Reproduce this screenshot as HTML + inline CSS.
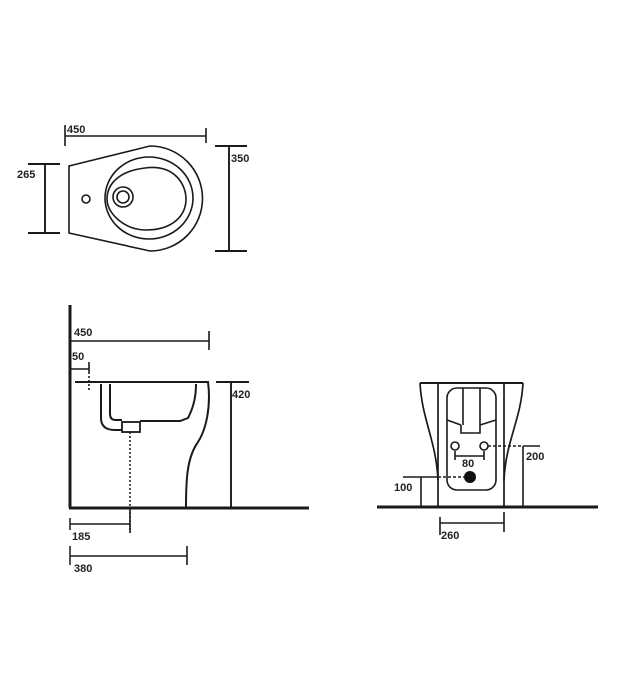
<!DOCTYPE html>
<html><head><style>html,body{margin:0;padding:0;background:#fff}svg{display:block}text{font-family:"Liberation Sans",sans-serif;font-size:11px;font-weight:bold;fill:#222}</style></head>
<body>
<svg width="619" height="700" viewBox="0 0 619 700" xmlns="http://www.w3.org/2000/svg">
<g fill="none" stroke="#1a1a1a" stroke-width="1.6">
<path d="M65 125V146M65 136H206M206 128V143"/>
<path d="M69 166L150 146A52.5 52.5 0 0 1 150 251L69 233Z"/>
<ellipse cx="149" cy="198" rx="44" ry="41"/>
<path d="M145 168C175 164 186 185 186 199C186 216 172 230 146 230C125 230 107 214 107 199C107 185 118 171 145 168Z"/>
<circle cx="123" cy="197" r="10"/><circle cx="123" cy="197" r="6"/>
<circle cx="86" cy="199" r="4"/>
<path d="M229 146V251M215 146H247M215 251H247" stroke-width="1.9"/>
<path d="M45 164V233M28 164H60M28 233H60" stroke-width="1.9"/>
<path d="M70 305V508M69 508H309" stroke-width="3"/>
<path d="M70 518V530M70 546V565" stroke-width="1.5"/>
<path d="M70 341H209M209 331V350"/>
<path d="M70 369H89M89 362V374"/>
<path d="M89 376V392" stroke-dasharray="2 2"/>
<path d="M75 382H208C211 405 207 430 196 445C187 460 186 480 186 508" stroke-width="2"/>
<path d="M196 384C196 400 192 410 188 418L180 421H140" stroke-width="2"/>
<path d="M110 384V414Q110 420 116 420H122" stroke-width="2"/>
<path d="M101 384V418Q101 430 115 430H122" stroke-width="2"/>
<rect x="122" y="422" width="18" height="10" stroke-width="1.8"/>
<path d="M130 432V532" stroke-dasharray="2 2" stroke-width="1.5"/>
<path d="M231 382V508M216 382H249" stroke-width="1.9"/>
<path d="M70 524H130M130 510V533"/>
<path d="M70 556H187M187 546V565"/>
<path d="M377 507H598" stroke-width="3"/>
<path d="M420 383H523" stroke-width="1.9"/>
<path d="M420 383C422 420 436 440 438 480M523 383C521 420 506 440 504 480" stroke-width="1.7"/>
<path d="M438 383V507M504 383V507" stroke-width="1.7"/>
<rect x="447" y="388" width="49" height="102" rx="10"/>
<path d="M463 388V425M480 388V425M461 425V433H480V425M447 420L461 425M496 420L480 425"/>
<circle cx="455" cy="446" r="4"/><circle cx="484" cy="446" r="4"/>
<path d="M455 456H484M455 451V460M484 451V460"/>
<path d="M488 446H523" stroke-dasharray="3 2"/>
<path d="M523 446H540M523 446V507"/>
<path d="M403 477H438M421 477V507"/>
<path d="M438 477H464" stroke-dasharray="3 2"/>
<path d="M440 523H504M440 517V535M504 512V532"/>
</g>
<circle cx="470" cy="477" r="6" fill="#111"/>
<text x="67" y="133">450</text>
<text x="231" y="162">350</text>
<text x="17" y="178">265</text>
<text x="74" y="336">450</text>
<text x="72" y="360">50</text>
<text x="232" y="398">420</text>
<text x="72" y="540">185</text>
<text x="74" y="572">380</text>
<text x="526" y="460">200</text>
<text x="462" y="467">80</text>
<text x="394" y="491">100</text>
<text x="441" y="539">260</text>
</svg>
</body></html>
